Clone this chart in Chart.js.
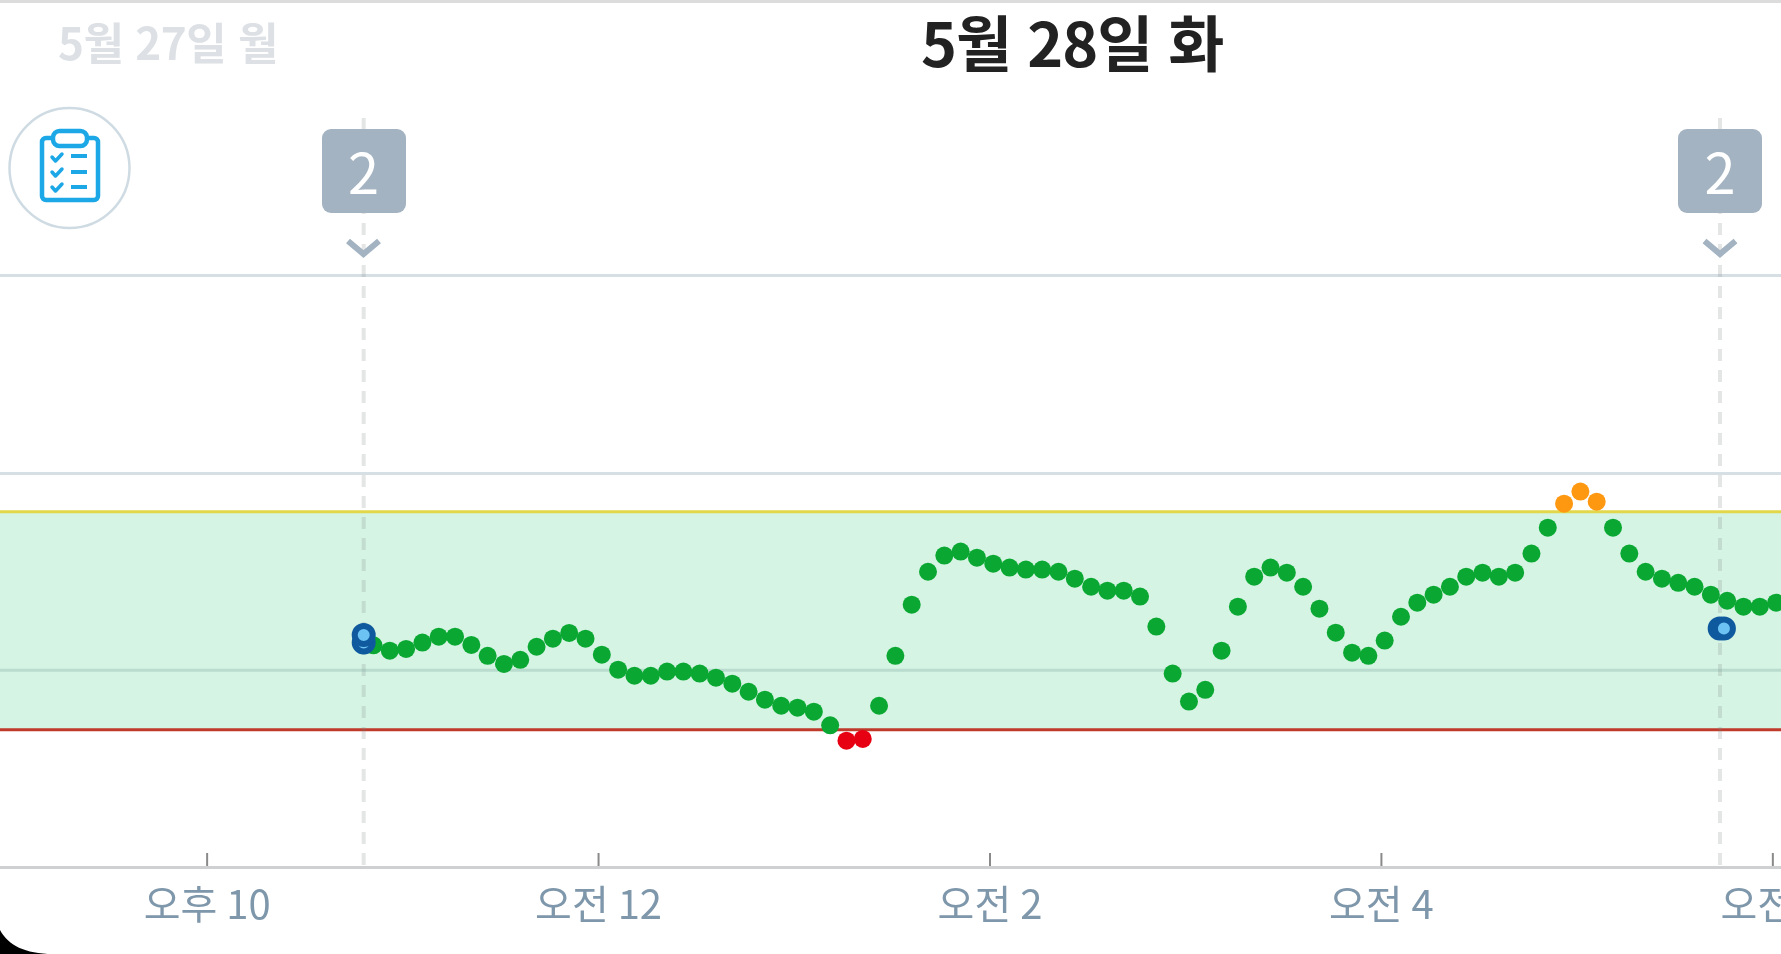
<!DOCTYPE html>
<html lang="ko">
<head>
<meta charset="utf-8">
<title>5월 28일 화</title>
<script src="https://cdn.jsdelivr.net/npm/chart.js@4"></script>
<style>
html,body{margin:0;padding:0;background:#fff;width:1781px;height:954px;overflow:hidden}
*{font-family:"Noto Sans CJK KR","Noto Sans",sans-serif}
#c{position:absolute;left:0;top:0}
.t{position:absolute;white-space:nowrap;line-height:1}
#topline{position:absolute;left:0;top:0;width:1781px;height:3px;background:#dcdcdc}
#prev{left:58px;top:19px;font-size:44px;font-weight:700;color:#dde1e5;letter-spacing:-.5px}
#cur{left:921px;top:10px;font-size:61px;font-weight:700;color:#222;letter-spacing:-1px}
.badge{position:absolute;top:129px;width:84px;height:84px;border-radius:9px;background:#a3b3c1;color:#fff;font-size:56px;font-weight:400;text-align:center;line-height:82px}
svg{position:absolute;left:0;top:0}
</style>
</head>
<body>
<canvas id="c" width="1781" height="954"></canvas>
<div id="topline"></div>
<div class="t" id="prev">5월 27일 월</div>
<div class="t" id="cur">5월 28일 화</div>
<div class="badge" style="left:321.5px">2</div>
<div class="badge" style="left:1678px">2</div>
<svg width="1781" height="954" viewBox="0 0 1781 954">
  <circle cx="69.5" cy="168" r="60" fill="#fff" stroke="#cfdbe3" stroke-width="2.5"/>
  <g fill="none" stroke="#1ca7e6" stroke-linecap="round" stroke-linejoin="round">
    <rect x="42" y="138" width="56" height="62" rx="4" stroke-width="4.5"/>
    <rect x="53" y="131" width="34" height="15" rx="6.5" fill="#fff" stroke-width="4.5"/>
    <path d="M52 157l3.5 4l6.5-7M52 172l3.5 4l6.5-7M52 187l3.5 4l6.5-7" stroke-width="3.5"/>
    <path d="M71 156h16M71 172h16M71 187h16" stroke-width="4" stroke-linecap="butt"/>
  </g>
  <path d="M348 241l15.5 13l15.5-13M1704.5 241l15.5 13l15.5-13" fill="none" stroke="#a3b3c1" stroke-width="6"/>
  <path d="M0 930C8 945 25 954 53 954L0 954Z" fill="#000"/>
</svg>
<script>
const tickMinutes = [-120, 0, 120, 240, 360];
const tickLabels = ['오후 10', '오전 12', '오전 2', '오전 4', '오전 6'];
const gridLevels = [199.6, 299.6];
const lowLimit = 70;
const lowLine = 69.6;
const highLimit = 180;
const midLevel = 99.7;
const readingMinutes = [
  -69,-64,-59,-54,-49,-44,-39,-34,-29,-24,-19,-14,-9,-4,1,6,11,16,21,26,31,36,41,46,51,56,61,66,71,
  76,81,86,91,96,101,106,111,116,121,126,131,136,141,146,151,156,161,166,171,176,181,186,191,196,
  201,206,211,216,221,226,231,236,241,246,251,256,261,266,271,276,281,286,291,296,301,306,311,316,
  321,326,331,336,341,346,351,356,361
];
const glucose = [
  112.3,109.6,110.5,113.7,116.7,116.7,112.5,107,102.9,105,111.6,115.7,118.6,115.7,107.6,100,96.9,96.9,99,99,98,95.9,92.9,88.8,84.8,81.7,80.7,78.7,71.8,
  64,64.9,81.7,107,132.9,149.6,157.8,159.8,156.7,153.7,151.7,150.7,150.7,149.6,146.1,142,140,140,137,121.8,98,83.8,89.8,109.6,131.9,
  147.1,151.7,149.1,142,130.9,118.7,108.6,107,114.7,126.8,133.9,138,142,147.1,149.1,147.1,149.1,158.8,171.9,184.1,190.2,185.1,171.9,158.8,
  149.6,146.1,144,142,138,134.9,131.9,131.9,133.9
];
const meterMinutes = [-72, -72, 343.7, 345];
const meterValues = [113.7, 117.6, 120.8, 120.8];
const eventMinutes = [-72, 343.8];

const xMin = -183.5, xMax = 362.5, yMin = 0, yMax = 379.5;
const toPts = (xs, ys) => xs.map((x, i) => ({x, y: ys[i]}));
const hline = (v) => [{x: xMin, y: v}, {x: xMax, y: v}];
const vline = (t) => [{x: t, y: yMax}, {x: t, y: yMin}];
const refLine = (label, v, color) => ({label, data: hline(v), borderColor: color, borderWidth: 3, pointRadius: 0, fill: false});

const pointColor = (ctx) => {
  const v = ctx.raw && ctx.raw.y;
  if (v < lowLimit) return '#e60012';
  if (v > highLimit) return '#ff9811';
  return '#0aa832';
};

const axisTicks = {
  id: 'axisTicks',
  afterDraw(chart) {
    const s = chart.scales.x, c = chart.ctx, b = chart.chartArea.bottom;
    c.save();
    c.strokeStyle = '#8a8a8a';
    c.lineWidth = 2;
    s.ticks.forEach((t) => {
      const p = s.getPixelForValue(t.value);
      c.beginPath(); c.moveTo(p, b - 14); c.lineTo(p, b - 1); c.stroke();
    });
    c.restore();
  }
};

new Chart(document.getElementById('c'), {
  type: 'line',
  plugins: [axisTicks],
  data: {
    datasets: [
      {label: '혈당 측정', data: toPts(meterMinutes, meterValues), showLine: false, pointRadius: 9, pointBorderWidth: 6, pointBackgroundColor: '#6cc3f3', pointBorderColor: '#0f5a9e'},
      {label: '혈당', data: toPts(readingMinutes, glucose), showLine: false, pointRadius: 9, pointBorderWidth: 0, pointBackgroundColor: pointColor},
      ...eventMinutes.map((t) => ({label: '이벤트', data: vline(t), borderColor: 'rgba(120,130,130,0.2)', borderWidth: 4, borderDash: [12, 9], pointRadius: 0, fill: false})),
      refLine('상한', highLimit, '#e2d74b'),
      refLine('하한', lowLine, '#bf3a2b'),
      refLine('기준', midLevel, '#b9dccf'),
      {label: '목표 범위', data: hline(highLimit), borderWidth: 0, pointRadius: 0, fill: {value: lowLine}, backgroundColor: '#d5f4e3'}
    ]
  },
  options: {
    responsive: false,
    animation: false,
    devicePixelRatio: 1,
    layout: {autoPadding: false, padding: {top: 118, left: 0, right: 0, bottom: 0}},
    plugins: {legend: {display: false}, tooltip: {enabled: false}, title: {display: false}},
    scales: {
      x: {
        type: 'linear', min: xMin, max: xMax,
        afterBuildTicks: (s) => { s.ticks = tickMinutes.map((value) => ({value})); },
        afterFit: (s) => { s.height = 87; s.paddingLeft = 0; s.paddingRight = 0; },
        grid: {drawOnChartArea: false, drawTicks: false},
        border: {color: '#cfd0d2', width: 3},
        ticks: {
          autoSkip: false, maxRotation: 0, minRotation: 0, padding: 13, color: '#7f97ab',
          font: {family: '"Noto Sans CJK KR"', size: 40, weight: '400'},
          callback: (v) => tickLabels[tickMinutes.indexOf(v)]
        }
      },
      y: {
        type: 'linear', min: yMin, max: yMax,
        afterBuildTicks: (s) => { s.ticks = gridLevels.map((value) => ({value})); },
        afterFit: (s) => { s.width = 0; },
        ticks: {display: false},
        border: {display: false},
        grid: {drawTicks: false, color: '#d6dfe4', lineWidth: 3}
      }
    }
  }
});
</script>
</body>
</html>
